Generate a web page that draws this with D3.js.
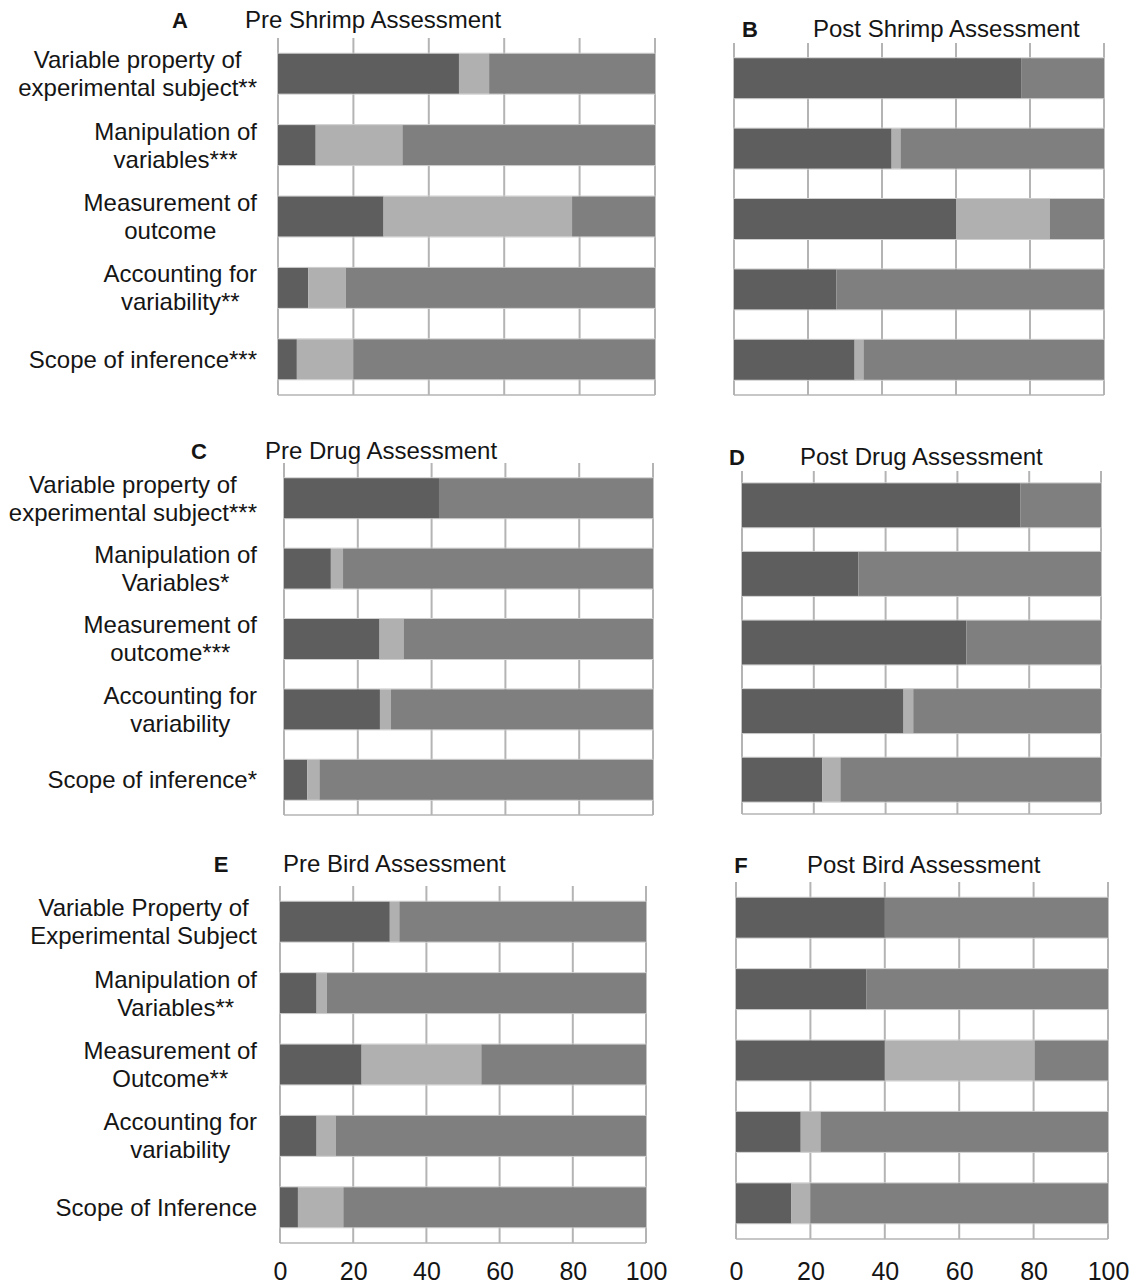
<!DOCTYPE html>
<html>
<head>
<meta charset="utf-8">
<script src="https://cdn.jsdelivr.net/npm/d3@7"></script>
<style>
  body { margin: 0; background: #fff; }
  svg text { font-family: "Liberation Sans", Arial, sans-serif; fill: #151515; }
</style>
</head>
<body>
<div id="chart"></div>
<script>
// category labels (\n = line break)
const shrimpLabels = ["Variable property of\nexperimental subject**", "Manipulation of\nvariables***", "Measurement of\noutcome", "Accounting for\nvariability**", "Scope of inference***"];
const drugLabels = ["Variable property of\nexperimental subject***", "Manipulation of\nVariables*", "Measurement of\noutcome***", "Accounting for\nvariability", "Scope of inference*"];
const birdLabels = ["Variable Property of\nExperimental Subject", "Manipulation of\nVariables**", "Measurement of\nOutcome**", "Accounting for\nvariability", "Scope of Inference"];

// percent values: dark segment, light segment (the rest up to 100 is the medium segment)
const preShrimpDark = [48, 10, 28, 8, 5];
const preShrimpLight = [8, 23, 50, 10, 15];
const postShrimpDark = [77.6, 42.6, 60, 27.7, 32.6];
const postShrimpLight = [0, 2.4, 25.3, 0, 2.4];
const preDrugDark = [42, 12.7, 25.9, 26, 6.3];
const preDrugLight = [0, 3.3, 6.5, 3, 3.3];
const postDrugDark = [77.6, 32.4, 62.5, 45, 22.4];
const postDrugLight = [0, 0, 0, 2.7, 5];
const preBirdDark = [30, 10, 22.3, 10, 4.9];
const preBirdLight = [2.6, 2.8, 32.7, 5.2, 12.4];
const postBirdDark = [40, 35, 40, 17.4, 14.9];
const postBirdLight = [0, 0, 40.3, 5.3, 5.1];

const xTicks = [0, 20, 40, 60, 80, 100];

// colors
const colors = { dark: '#5e5e5e', light: '#b0b0b0', rest: '#7f7f7f' };
const gridColor = '#b4b4b4';

// panel layout
const panels = [
  { letter: 'A', title: 'Pre Shrimp Assessment', labels: shrimpLabels, dark: preShrimpDark, light: preShrimpLight,
    x0: 278, x1: 655, y0: 38, y1: 395, barH: 40, letterX: 180, titleX: 245, headY: 28, showLabels: true, tickPad: 0 },
  { letter: 'B', title: 'Post Shrimp Assessment', labels: shrimpLabels, dark: postShrimpDark, light: postShrimpLight,
    x0: 734, x1: 1104, y0: 43, y1: 395, barH: 40, letterX: 750, titleX: 813, headY: 37, showLabels: false, tickPad: 0 },
  { letter: 'C', title: 'Pre Drug Assessment', labels: drugLabels, dark: preDrugDark, light: preDrugLight,
    x0: 284, x1: 653, y0: 463, y1: 815, barH: 40, letterX: 199, titleX: 265, headY: 459, showLabels: true, tickPad: 0 },
  { letter: 'D', title: 'Post Drug Assessment', labels: drugLabels, dark: postDrugDark, light: postDrugLight,
    x0: 742, x1: 1101, y0: 471, y1: 814, barH: 44, letterX: 737, titleX: 800, headY: 465, showLabels: false, tickPad: 0 },
  { letter: 'E', title: 'Pre Bird Assessment', labels: birdLabels, dark: preBirdDark, light: preBirdLight,
    x0: 280, x1: 646, y0: 886, y1: 1243, barH: 40, letterX: 221, titleX: 283, headY: 872, showLabels: true, tickPad: 19 },
  { letter: 'F', title: 'Post Bird Assessment', labels: birdLabels, dark: postBirdDark, light: postBirdLight,
    x0: 736, x1: 1108, y0: 882, y1: 1239, barH: 40, letterX: 741, titleX: 807, headY: 873, showLabels: false, tickPad: 23 }
];

const labelRight = 257; // right edge of the category label block
const fontSize = 24;
const lineGap = 28;

const svg = d3.select('#chart')
  .append('svg')
  .attr('width', 1132)
  .attr('height', 1284);

const drawPanel = (p) => {
  const rows = p.labels.map((c, i) => ({ cat: c, dark: p.dark[i], light: p.light[i], rest: 100 - p.dark[i] - p.light[i] }));

  const x = d3.scaleLinear().domain([0, 100]).range([p.x0, p.x1]);
  const step = (p.y1 - p.y0) / rows.length;
  const pad = 1 - p.barH / step;
  const y = d3.scaleBand()
    .domain(rows.map(d => d.cat))
    .range([p.y0, p.y1])
    .paddingInner(pad)
    .paddingOuter(pad / 2);

  const g = svg.append('g');

  // vertical grid lines
  g.selectAll('line.grid')
    .data(xTicks)
    .join('line')
    .attr('class', 'grid')
    .attr('x1', d => x(d)).attr('x2', d => x(d))
    .attr('y1', p.y0).attr('y2', p.y1)
    .attr('stroke', gridColor)
    .attr('stroke-width', 2);

  // bottom line
  g.append('line')
    .attr('x1', x(0)).attr('x2', x(100))
    .attr('y1', p.y1).attr('y2', p.y1)
    .attr('stroke', gridColor)
    .attr('stroke-width', 1.5);

  // faint bar outline
  g.selectAll('rect.outline')
    .data(rows)
    .join('rect')
    .attr('class', 'outline')
    .attr('x', x(0))
    .attr('y', d => y(d.cat) - 0.5)
    .attr('width', x(100) - x(0))
    .attr('height', y.bandwidth() + 1)
    .attr('fill', 'none')
    .attr('stroke', '#cfcfcf')
    .attr('stroke-width', 1);

  // stacked segments
  const series = d3.stack().keys(['dark', 'light', 'rest'])(rows);
  g.selectAll('g.seg')
    .data(series)
    .join('g')
    .attr('fill', s => colors[s.key])
    .selectAll('rect')
    .data(s => s)
    .join('rect')
    .attr('x', d => x(d[0]))
    .attr('y', d => y(d.data.cat))
    .attr('width', d => Math.max(0, x(d[1]) - x(d[0])))
    .attr('height', y.bandwidth());

  // panel letter + title
  g.append('text')
    .attr('x', p.letterX).attr('y', p.headY)
    .attr('text-anchor', 'middle')
    .attr('font-weight', 'bold')
    .attr('font-size', 22)
    .text(p.letter);
  g.append('text')
    .attr('x', p.titleX).attr('y', p.headY)
    .attr('font-size', fontSize)
    .text(p.title);

  // category labels: block right-aligned, lines centred inside it
  if (p.showLabels) {
    rows.forEach(d => {
      const lines = d.cat.split('\n');
      const cy = y(d.cat) + y.bandwidth() / 2;
      const t = g.append('text')
        .attr('font-size', fontSize)
        .attr('text-anchor', 'middle');
      lines.forEach((ln, k) => {
        t.append('tspan')
          .attr('y', cy + (k - (lines.length - 1) / 2) * lineGap)
          .attr('dy', '0.35em')
          .text(ln);
      });
      let maxW = 0;
      t.selectAll('tspan').each(function () {
        maxW = Math.max(maxW, this.getComputedTextLength());
      });
      t.selectAll('tspan').attr('x', labelRight - maxW / 2);
    });
  }

  // x axis tick labels (bottom row only)
  if (p.tickPad) {
    const axis = d3.axisBottom(x).tickValues(xTicks).tickSize(0).tickPadding(p.tickPad);
    g.append('g')
      .attr('transform', `translate(0, ${p.y1})`)
      .call(axis)
      .call(a => a.select('.domain').remove())
      .call(a => a.selectAll('text')
        .attr('font-size', 25)
        .attr('font-family', '"Liberation Sans", Arial, sans-serif')
        .attr('fill', '#151515'));
  }
};

panels.forEach(drawPanel);
</script>
</body>
</html>
